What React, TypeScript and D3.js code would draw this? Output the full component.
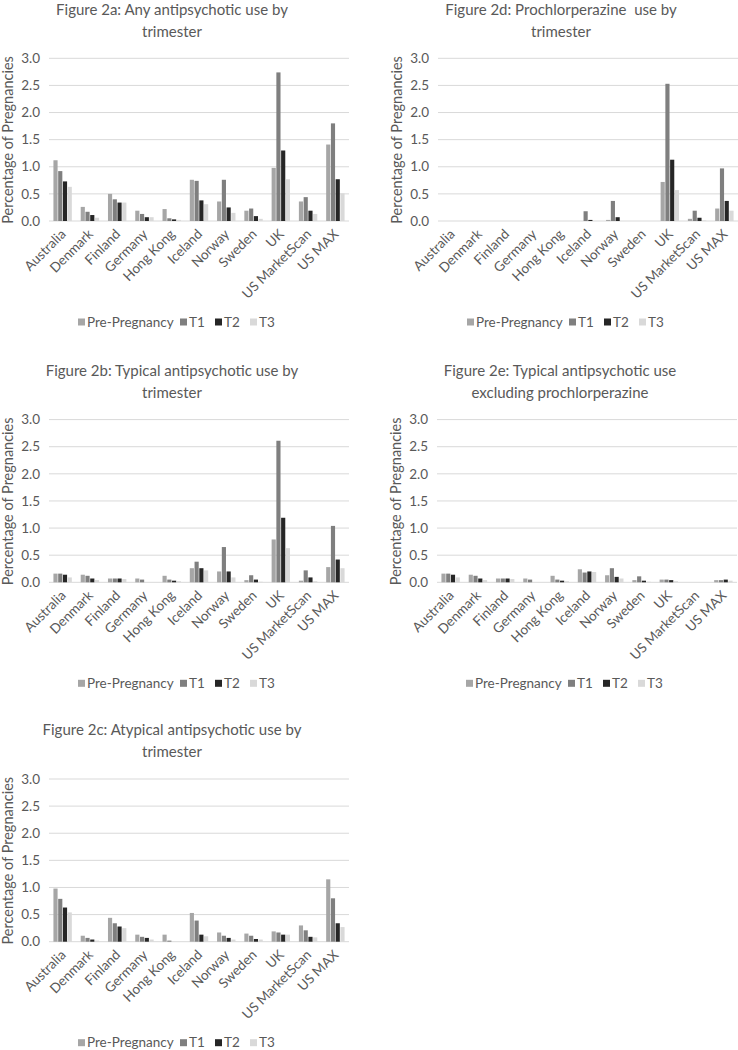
import React from "react";
import * as d3 from "d3";

const categories = ["Australia", "Denmark", "Finland", "Germany", "Hong Kong", "Iceland", "Norway", "Sweden", "UK", "US MarketScan", "US MAX"];
const seriesNames = ["Pre-Pregnancy", "T1", "T2", "T3"];
const seriesColors = ["#a6a6a6", "#7f7f7f", "#262626", "#d9d9d9"];
const yTicks = [0, 0.5, 1.0, 1.5, 2.0, 2.5, 3.0];

// Figure 2a: Any antipsychotic use
const fig2aPre = [1.12, 0.26, 0.50, 0.19, 0.22, 0.76, 0.36, 0.19, 0.98, 0.36, 1.41];
const fig2aT1 = [0.92, 0.17, 0.40, 0.13, 0.05, 0.74, 0.76, 0.23, 2.74, 0.44, 1.80];
const fig2aT2 = [0.73, 0.11, 0.34, 0.07, 0.03, 0.38, 0.25, 0.09, 1.30, 0.19, 0.77];
const fig2aT3 = [0.63, 0.06, 0.34, 0.07, 0.02, 0.31, 0.15, 0.04, 0.77, 0.13, 0.51];

// Figure 2b: Typical antipsychotic use
const fig2bPre = [0.16, 0.14, 0.07, 0.07, 0.12, 0.26, 0.20, 0.04, 0.79, 0.03, 0.28];
const fig2bT1 = [0.16, 0.12, 0.07, 0.05, 0.05, 0.38, 0.65, 0.13, 2.61, 0.22, 1.04];
const fig2bT2 = [0.14, 0.07, 0.07, 0.00, 0.03, 0.26, 0.20, 0.05, 1.19, 0.09, 0.42];
const fig2bT3 = [0.09, 0.04, 0.06, 0.00, 0.02, 0.22, 0.09, 0.01, 0.63, 0.02, 0.26];

// Figure 2c: Atypical antipsychotic use
const fig2cPre = [0.98, 0.11, 0.44, 0.13, 0.13, 0.53, 0.17, 0.15, 0.19, 0.30, 1.15];
const fig2cT1 = [0.79, 0.07, 0.34, 0.09, 0.02, 0.39, 0.11, 0.11, 0.17, 0.21, 0.80];
const fig2cT2 = [0.63, 0.04, 0.28, 0.07, 0.00, 0.13, 0.07, 0.05, 0.13, 0.09, 0.34];
const fig2cT3 = [0.54, 0.02, 0.25, 0.04, 0.00, 0.10, 0.04, 0.04, 0.13, 0.08, 0.27];

// Figure 2d: Prochlorperazine use
const fig2dPre = [0, 0, 0, 0, 0, 0.00, 0.02, 0, 0.72, 0.04, 0.23];
const fig2dT1 = [0, 0, 0, 0, 0, 0.18, 0.37, 0, 2.53, 0.19, 0.97];
const fig2dT2 = [0, 0, 0, 0, 0, 0.02, 0.07, 0, 1.13, 0.06, 0.37];
const fig2dT3 = [0, 0, 0, 0, 0, 0.00, 0.00, 0, 0.57, 0.01, 0.19];

// Figure 2e: Typical antipsychotic use excluding prochlorperazine
const fig2ePre = [0.16, 0.14, 0.07, 0.07, 0.12, 0.24, 0.13, 0.04, 0.05, 0, 0.04];
const fig2eT1 = [0.16, 0.12, 0.07, 0.05, 0.05, 0.18, 0.26, 0.11, 0.05, 0, 0.04];
const fig2eT2 = [0.14, 0.07, 0.07, 0.00, 0.03, 0.20, 0.10, 0.03, 0.04, 0, 0.05];
const fig2eT3 = [0.09, 0.04, 0.06, 0.00, 0.02, 0.19, 0.07, 0.01, 0.02, 0, 0.03];

const title2a = ["Figure 2a: Any antipsychotic use by", "trimester"];
const title2b = ["Figure 2b: Typical antipsychotic use by", "trimester"];
const title2c = ["Figure 2c: Atypical antipsychotic use by", "trimester"];
const title2d = ["Figure 2d: Prochlorperazine  use by", "trimester"];
const title2e = ["Figure 2e: Typical antipsychotic use", "excluding prochlorperazine"];

const FONT = "Lato, 'Open Sans', sans-serif";
const TEXT = "#595959";
const GRID = "#d9d9d9";

type PanelProps = { title: string[]; series: number[][]; ox: number; oy: number };

function Panel({ title, series, ox, oy }: PanelProps) {
  const y = d3.scaleLinear().domain([0, 3]).range([221, 58.3]);
  const x0 = d3.scaleBand<string>().domain(categories).range([49, 349]).paddingInner(0).paddingOuter(0);
  const x1 = d3.scaleBand<string>().domain(seriesNames).range([0, x0.bandwidth()]).paddingInner(0).paddingOuter(0.87);
  const legendX = [29, 131, 166, 201];
  return (
    <g transform={`translate(${ox},${oy})`} fontFamily={FONT}>
      {title.map((t, i) => (
        <text key={i} x={172} y={14.5 + i * 22} textAnchor="middle" fontSize={15} fill={TEXT} style={{ whiteSpace: "pre" }}>{t}</text>
      ))}
      {yTicks.map((t) => (
        <g key={t}>
          <line x1={49} x2={349} y1={y(t)} y2={y(t)} stroke={GRID} strokeWidth={1} />
          <text x={40} y={y(t)} dy="0.35em" textAnchor="end" fontSize={13.5} fill={TEXT}>{t.toFixed(1)}</text>
        </g>
      ))}
      <text transform={`translate(12.5,140) rotate(-90)`} textAnchor="middle" fontSize={14.5} fill={TEXT}>Percentage of Pregnancies</text>
      {categories.map((c, ci) => (
        <g key={c}>
          {seriesNames.map((s, si) => {
            const v = series[si][ci];
            const bx = (x0(c) as number) + (x1(s) as number);
            return (
              <rect key={s} x={bx + 0.3} y={y(v)} width={x1.bandwidth() - 0.6} height={y(0) - y(v)} fill={seriesColors[si]} />
            );
          })}
          <text transform={`translate(${(x0(c) as number) + x0.bandwidth() / 2 + 4},${235}) rotate(-45)`} textAnchor="end" fontSize={13.5} fill={TEXT}>{c}</text>
        </g>
      ))}
      {seriesNames.map((s, si) => (
        <g key={s} transform={`translate(${49 + legendX[si]},322)`}>
          <rect x={0} y={-3.5} width={7} height={7} fill={seriesColors[si]} />
          <text x={9} y={0} dy="0.35em" fontSize={13.5} fill={TEXT}>{s}</text>
        </g>
      ))}
    </g>
  );
}

export default function App() {
  const rows = [0, 361.3, 720.7];
  return (
    <svg width={738} height={1050} style={{ position: "absolute", left: 0, top: 0, background: "#fff" }}>
      <rect width={738} height={1050} fill="#fff" />
      <Panel title={title2a} series={[fig2aPre, fig2aT1, fig2aT2, fig2aT3]} ox={0} oy={rows[0]} />
      <Panel title={title2b} series={[fig2bPre, fig2bT1, fig2bT2, fig2bT3]} ox={0} oy={rows[1]} />
      <Panel title={title2c} series={[fig2cPre, fig2cT1, fig2cT2, fig2cT3]} ox={0} oy={rows[2]} />
      <Panel title={title2d} series={[fig2dPre, fig2dT1, fig2dT2, fig2dT3]} ox={389} oy={rows[0]} />
      <Panel title={title2e} series={[fig2ePre, fig2eT1, fig2eT2, fig2eT3]} ox={388} oy={rows[1]} />
    </svg>
  );
}
